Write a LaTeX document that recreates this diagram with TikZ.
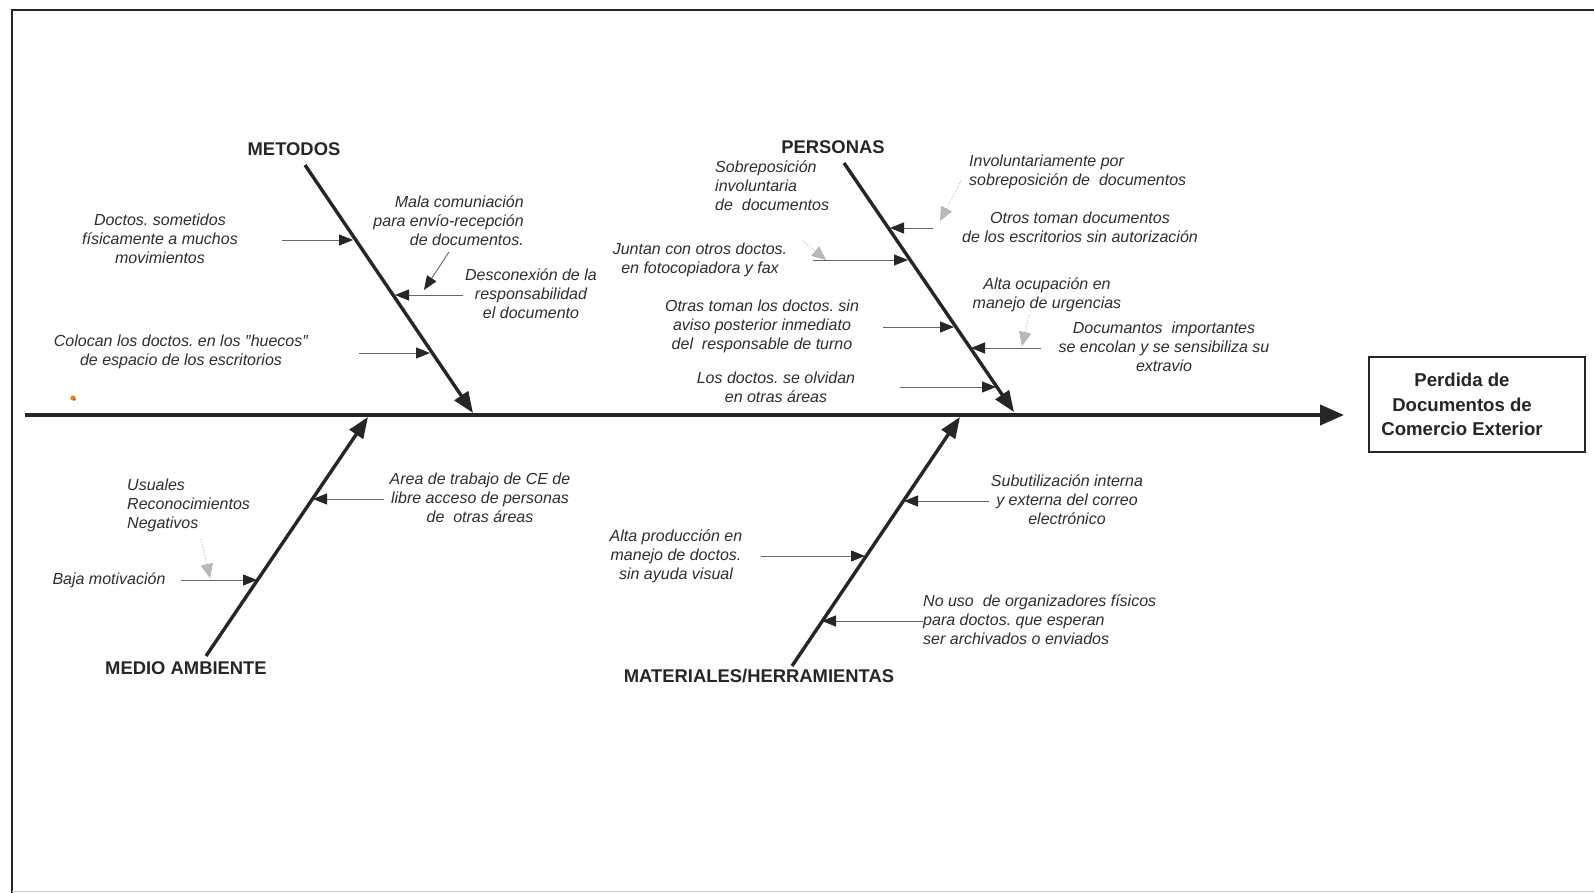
\documentclass[tikz,border=0pt]{standalone}
\usepackage{fontspec}
\setmainfont{Liberation Sans}
\usetikzlibrary{arrows.meta}
\definecolor{ink}{HTML}{262626}
\definecolor{txt}{HTML}{2E2E2E}
\frenchspacing
\begin{document}
\begin{tikzpicture}[x=1pt,y=-1pt,
  cause/.style={font=\itshape\fontsize{16}{19}\selectfont, text=txt, align=center, inner sep=0pt},
  causel/.style={cause, align=left, anchor=west},
  head/.style={font=\bfseries\fontsize{18.4}{22}\selectfont, text=ink, inner sep=0pt},
  bone/.style={line width=3.4pt, draw=ink, -{Triangle[length=21pt,width=16pt]}},
  twig/.style={line width=0.9pt, draw=ink!70, -{Triangle[length=14pt,width=11pt,fill=ink,color=ink]}},
  hint/.style={line width=0.8pt, draw=gray!70, dotted, -{Triangle[length=14pt,width=12pt,fill=gray!55,color=gray!60,line width=0.6pt]}},
]
\useasboundingbox (0,0) rectangle (1594,893);
\fill[white] (0,0) rectangle (1594,893);

% page frame
\draw[ink, line width=2.6pt] (12,893) -- (12,10) -- (1594,10);
\draw[gray!40, line width=0.8pt] (12,891) -- (1594,891);

% effect box and spine
\node[draw=ink, line width=1.3pt, minimum width=216pt, minimum height=95pt]
      (effect) at (1477,404.5) {};
\node[font=\bfseries\fontsize{18.6}{24.4}\selectfont, text=ink, align=center, inner sep=0pt]
      (effecttxt) at ([xshift=-15pt]effect.center) {Perdida de\\Documentos de\\Comercio Exterior};
\coordinate (spL) at (25,415);
\coordinate (spR) at (1344,415);
\draw[line width=4pt, draw=ink, -{Triangle[length=24pt,width=20pt]}] (spL) -- (spR);

% small mark near the start of the spine
\fill[orange!70!brown] (73,398) circle (2.6pt);
\fill[brown!80!black] (74.5,399.5) circle (1.4pt);

% main bones
\node[head] (mlab) at (294,149) {METODOS};
\node[head] (plab) at (833,147) {PERSONAS};
\node[head] (alab) at (186,668) {MEDIO AMBIENTE};
\node[head] (tlab) at (759,676) {MATERIALES/HERRAMIENTAS};
\coordinate (mtop) at (305,165);  \coordinate (mtip) at (473,413);
\coordinate (ptop) at (844,163);  \coordinate (ptip) at (1014,412);
\coordinate (abot) at (206,656);  \coordinate (atip) at (368,417);
\coordinate (tbot) at (792,666);  \coordinate (ttip) at (960,417);
\draw[bone] (mtop) -- (mtip);
\draw[bone] (ptop) -- (ptip);
\draw[bone] (abot) -- (atip);
\draw[bone] (tbot) -- (ttip);

% METODOS
\node[cause] (m1) at (160,239) {Doctos. sometidos\\físicamente a muchos\\movimientos};
\node[cause, align=right, anchor=east] (m2) at (524,221) {Mala comuniación\\para envío-recepción\\de documentos.};
\node[cause] (m3) at (531,294) {Desconexión de la\\responsabilidad\\el documento};
\node[cause] (m4) at (181,352) {Colocan los doctos. en los ″huecos″\\de espacio de los escritorios};
\coordinate (m1s) at (282,240); \coordinate (m1t) at (353,240);
\coordinate (m2s) at (449,252); \coordinate (m2t) at (424,290);
\coordinate (m3s) at (463,295); \coordinate (m3t) at (395,295);
\coordinate (m4s) at (359,353); \coordinate (m4t) at (430,353);
\draw[twig] (m1s) -- (m1t);
\draw[twig] (m2s) -- (m2t);
\draw[twig] (m3s) -- (m3t);
\draw[twig] (m4s) -- (m4t);

% PERSONAS
\node[causel] (p1) at (715,186) {Sobreposición\\involuntaria\\de\ \ documentos};
\node[cause] (p2) at (700,260) {Juntan con otros doctos.\\en fotocopiadora y fax};
\node[causel] (p3) at (969,172) {Involuntariamente por\\sobreposición de\ \ documentos};
\node[cause] (p4) at (1080,227) {Otros toman documentos\\de los escritorios sin autorización};
\node[cause] (p5) at (762,326) {Otras toman los doctos. sin\\aviso posterior inmediato\\del\ \ responsable de turno};
\node[cause] (p6) at (1047,295) {Alta ocupación en\\manejo de urgencias};
\node[cause] (p7) at (1164,347) {Documantos\ \ importantes\\se encolan y se sensibiliza su\\extravio};
\node[cause] (p8) at (776,387) {Los doctos. se olvidan\\en otras áreas};
\coordinate (p1s) at (803,241);  \coordinate (p1t) at (826,260);
\coordinate (p2s) at (813,260);  \coordinate (p2t) at (908,260);
\coordinate (p3s) at (961,181);  \coordinate (p3t) at (940,221);
\coordinate (p4s) at (933,228);  \coordinate (p4t) at (890,228);
\coordinate (p5s) at (883,327);  \coordinate (p5t) at (954,327);
\coordinate (p6s) at (1029,315); \coordinate (p6t) at (1022,346);
\coordinate (p7s) at (1041,348); \coordinate (p7t) at (971,348);
\coordinate (p8s) at (900,387);  \coordinate (p8t) at (996,387);
\draw[hint] (p1s) -- (p1t);
\draw[twig] (p2s) -- (p2t);
\draw[hint] (p3s) -- (p3t);
\draw[twig] (p4s) -- (p4t);
\draw[twig] (p5s) -- (p5t);
\draw[hint] (p6s) -- (p6t);
\draw[twig] (p7s) -- (p7t);
\draw[twig] (p8s) -- (p8t);

% MEDIO AMBIENTE
\node[cause] (a1) at (480,498) {Area de trabajo de CE de\\libre acceso de personas\\de\ \ otras áreas};
\node[causel] (a2) at (127,505) {Usuales\\Reconocimientos\\Negativos};
\node[cause] (a3) at (109,580) {Baja motivación};
\coordinate (a1s) at (384,499); \coordinate (a1t) at (313,499);
\coordinate (a2s) at (201,539); \coordinate (a2t) at (210,578);
\coordinate (a3s) at (181,580); \coordinate (a3t) at (257,580);
\draw[twig] (a1s) -- (a1t);
\draw[hint] (a2s) -- (a2t);
\draw[twig] (a3s) -- (a3t);

% MATERIALES/HERRAMIENTAS
\node[cause] (t1) at (1067,500) {Subutilización interna\\y externa del correo\\electrónico};
\node[cause] (t2) at (676,556) {Alta producción en\\manejo de doctos.\\sin ayuda visual};
\node[causel] (t3) at (923,620) {No uso\ \ de organizadores físicos\\para doctos. que esperan\\ser archivados o enviados};
\coordinate (t1s) at (989,501); \coordinate (t1t) at (904,501);
\coordinate (t2s) at (761,556); \coordinate (t2t) at (865,556);
\coordinate (t3s) at (923,621); \coordinate (t3t) at (822,621);
\draw[twig] (t1s) -- (t1t);
\draw[twig] (t2s) -- (t2t);
\draw[twig] (t3s) -- (t3t);
\end{tikzpicture}
\end{document}
